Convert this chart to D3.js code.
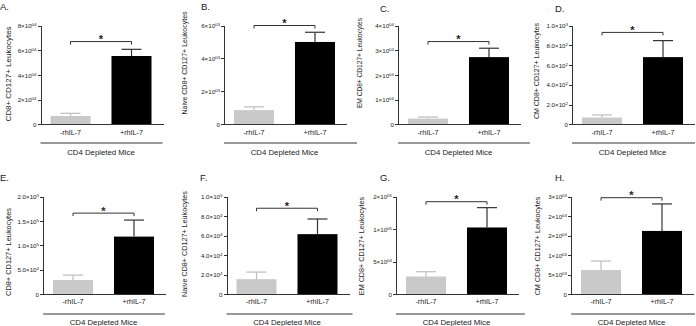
<!DOCTYPE html>
<html>
<head>
<meta charset="utf-8">
<script src="https://d3js.org/d3.v7.min.js"></script>
<style>
  body { margin: 0; background: #fff; }
  svg text { font-family: "Liberation Sans", Arial, sans-serif; fill: #1a1a1a; }
  .axis path, .axis line { stroke: #333; stroke-width: 1; shape-rendering: crispEdges; }
</style>
</head>
<body>
<div id="chart"></div>
<script>
var width = 696;
var height = 326;

// ---- data ----
var panelNames = ["A.", "B.", "C.", "D.", "E.", "F.", "G.", "H."];
var yTitles = [
  "CD8+ CD127+ Leukocytes",
  "Naive CD8+ CD127+ Leukocytes",
  "EM CD8+ CD127+ Leukocytes",
  "CM CD8+ CD127+ Leukocytes",
  "CD8+ CD127+ Leukocytes",
  "Naive CD8+ CD127+ Leukocytes",
  "EM CD8+ CD127+ Leukocytes",
  "CM CD8+ CD127+ Leukocytes"
];
var groups = ["-rhIL-7", "+rhIL-7"];
var groupTitle = "CD4 Depleted Mice";

var minusMean = [6700, 860, 2300, 68, 29100, 15500, 27300, 6200];
var minusErr  = [2200, 200, 650, 27, 10200, 7200, 7300, 2300];
var plusMean  = [55300, 5000, 27200, 680, 118000, 61500, 102500, 16200];
var plusErr   = [5400, 590, 3600, 167, 33800, 15500, 30400, 6900];
var sigLevel  = [67000, 6000, 33500, 930, 166000, 88000, 142000, 24700];

var yMax = [80000, 6000, 40000, 1000, 200000, 100000, 150000, 25000];
var tickVals = [
  [0, 20000, 40000, 60000, 80000],
  [0, 2000, 4000, 6000],
  [0, 10000, 20000, 30000, 40000],
  [0, 200, 400, 600, 800, 1000],
  [0, 50000, 100000, 150000, 200000],
  [0, 20000, 40000, 60000, 80000, 100000],
  [0, 50000, 100000, 150000],
  [0, 5000, 10000, 15000, 20000, 25000]
];
var tickLabels = [
  ["0", "2×10^04", "4×10^04", "6×10^04", "8×10^04"],
  ["0", "2×10^03", "4×10^03", "6×10^03"],
  ["0", "1×10^04", "2×10^04", "3×10^04", "4×10^04"],
  ["0", "2.0×10^2", "4.0×10^2", "6.0×10^2", "8.0×10^2", "1.0×10^3"],
  ["0", "5.0×10^4", "1.0×10^5", "1.5×10^5", "2.0×10^5"],
  ["0", "2.0×10^4", "4.0×10^4", "6.0×10^4", "8.0×10^4", "1.0×10^5"],
  ["0", "5×10^04", "1×10^05", "2×10^05"],
  ["0", "5×10^03", "1×10^04", "2×10^04", "2×10^04", "3×10^04"]
];

// ---- layout ----
var axisX = [40.5, 224, 398, 572, 43, 226.5, 396, 571];
var rowTop = [25.5, 196.5];
var rowBottom = [124.3, 294.3];
var labelX = [0, 201, 380, 555, 0, 200, 380, 555];
var labelY = [10, 10, 12, 12, 181, 181, 181, 181];
var titleX = [8, 184, 359, 536, 7.5, 184, 361, 537];
var titleY = [74, 63, 63, 71, 252, 244, 246, 246];
var titleSize = [8, 7, 6.6, 7, 7.4, 7.2, 7.2, 7.2];
var groupLineW = [122, 133, 132, 123, 122, 126, 129, 124];
var catLabelY = [135.5, 304];
var groupLineY = [143, 314];
var groupTitleY = [154.5, 325];
var plotW = 121;

var svg = d3.select("#chart")
  .append("svg")
    .attr("width", width)
    .attr("height", height);

function drawPanel(i) {
  var row = i < 4 ? 0 : 1;
  var ax = axisX[i];
  var g = svg.append("g");

  var y = d3.scaleLinear()
    .domain([0, yMax[i]])
    .range([rowBottom[row], rowTop[row]]);
  var x = d3.scaleBand()
    .domain(groups)
    .range([ax, ax + plotW])
    .paddingInner(0.344)
    .paddingOuter(0.164);

  var means = [minusMean[i], plusMean[i]];
  var errs = [minusErr[i], plusErr[i]];
  var fills = ["#c9c9c9", "#000"];

  // bars
  g.selectAll("rect.bar")
    .data(groups)
    .enter()
    .append("rect")
      .attr("class", "bar")
      .attr("x", function (d) { return x(d); })
      .attr("y", function (d, k) { return y(means[k]); })
      .attr("width", x.bandwidth())
      .attr("height", function (d, k) { return y(0) - y(means[k]); })
      .attr("fill", function (d, k) { return fills[k]; });

  // error bars (upper only)
  var eb = g.selectAll("g.err")
    .data(groups)
    .enter()
    .append("g")
      .attr("class", "err")
      .attr("stroke", function (d, k) { return k == 0 ? "#bdbdbd" : "#333"; })
      .attr("stroke-width", 1.2);
  eb.append("line")
    .attr("x1", function (d) { return x(d) + x.bandwidth() / 2; })
    .attr("x2", function (d) { return x(d) + x.bandwidth() / 2; })
    .attr("y1", function (d, k) { return y(means[k]); })
    .attr("y2", function (d, k) { return y(means[k] + errs[k]); });
  eb.append("line")
    .attr("x1", function (d) { return x(d) + x.bandwidth() / 2 - 10; })
    .attr("x2", function (d) { return x(d) + x.bandwidth() / 2 + 10; })
    .attr("y1", function (d, k) { return y(means[k] + errs[k]); })
    .attr("y2", function (d, k) { return y(means[k] + errs[k]); });

  // y axis
  var yAxis = g.append("g")
    .attr("class", "axis")
    .attr("transform", "translate(" + ax + ",0)")
    .call(d3.axisLeft(y).tickValues(tickVals[i]).tickSize(3).tickSizeOuter(0).tickFormat(""));
  yAxis.selectAll(".tick text").remove();
  yAxis.selectAll(".tick")
    .append("text")
      .attr("x", -4)
      .attr("dy", "0.34em")
      .attr("text-anchor", "end")
      .style("font-size", "6.2px")
      .each(function (d, k) {
        var parts = tickLabels[i][k].split("^");
        var t = d3.select(this);
        t.append("tspan").text(parts[0]);
        if (parts.length > 1) {
          t.append("tspan")
            .attr("dy", "-0.45em")
            .style("font-size", "4.4px")
            .text(parts[1]);
        }
      });

  // x axis
  var xAxis = g.append("g")
    .attr("class", "axis")
    .attr("transform", "translate(0," + rowBottom[row] + ")")
    .call(d3.axisBottom(x).tickSize(0).tickSizeOuter(0));
  xAxis.selectAll(".tick text")
    .attr("y", catLabelY[row] - rowBottom[row])
    .attr("dy", 0)
    .style("font-size", "7.2px");
  xAxis.select(".domain").attr("d", "M" + ax + ",0H" + (ax + plotW + 2));

  // y title
  g.append("text")
    .attr("transform", "translate(" + (titleX[i] + 3) + "," + titleY[i] + ") rotate(-90)")
    .attr("text-anchor", "middle")
    .style("font-size", titleSize[i] + "px")
    .text(yTitles[i]);

  // significance bracket
  var c1 = x(groups[0]) + x.bandwidth() / 2;
  var c2 = x(groups[1]) + x.bandwidth() / 2;
  var yb = y(sigLevel[i]);
  g.append("path")
    .attr("d", "M" + c1 + "," + (yb + 3) + "V" + yb + "H" + c2 + "V" + (yb + 3))
    .attr("fill", "none")
    .attr("stroke", "#333")
    .attr("stroke-width", 1);
  g.append("text")
    .attr("x", (c1 + c2) / 2)
    .attr("y", yb + 1.5)
    .attr("text-anchor", "middle")
    .style("font-size", "11px")
    .style("font-weight", "bold")
    .text("*");

  // group line and title
  g.append("line")
    .attr("x1", ax)
    .attr("x2", ax + groupLineW[i])
    .attr("y1", groupLineY[row])
    .attr("y2", groupLineY[row])
    .attr("stroke", "#333")
    .attr("stroke-width", 1);
  g.append("text")
    .attr("x", ax + plotW / 2)
    .attr("y", groupTitleY[row])
    .attr("text-anchor", "middle")
    .style("font-size", "7.8px")
    .text(groupTitle);

  // panel letter
  g.append("text")
    .attr("x", labelX[i])
    .attr("y", labelY[i])
    .style("font-size", "9.5px")
    .text(panelNames[i]);
}

for (var i = 0; i < panelNames.length; i++) {
  drawPanel(i);
}
</script>
</body>
</html>
